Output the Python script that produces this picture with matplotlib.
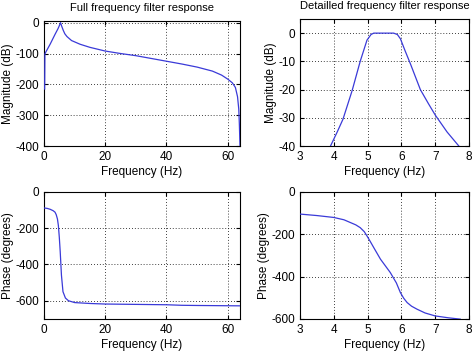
import matplotlib
matplotlib.use("Agg")
import matplotlib.pyplot as plt

plt.rcParams['font.family'] = ['Liberation Sans', 'DejaVu Sans']
plt.rcParams['axes.unicode_minus'] = False

# Full magnitude response
full_f = [0.22, 0.3, 0.6, 1.0, 2.0, 3.0, 3.6, 4.6, 5.0, 5.4, 5.8, 6.3, 6.8, 7.5, 9.0, 11.8, 15, 20, 25, 30, 35, 40, 45, 50, 55, 58, 60, 61.5, 62.5, 63.2, 63.6, 63.8, 64.0]
full_mag = [-215, -102, -95, -88, -70, -50, -38, -19, -10, 0, -12, -25, -36, -45, -58, -70, -80, -92, -100, -107, -116, -125, -134, -144, -157, -170, -183, -195, -210, -240, -280, -330, -400]

# Detailed magnitude response
det_f = [3.9, 4.1, 4.27, 4.54, 4.78, 4.98, 5.1, 5.18, 5.77, 5.88, 5.97, 6.1, 6.27, 6.56, 6.8, 7.0, 7.35, 7.7]
det_mag = [-40, -35, -30.5, -20.4, -10, -2.5, -0.5, 0, 0, -0.5, -2, -6, -11, -20, -25, -29, -35, -40]

# Full phase response
ph_f = [0.0, 1.0, 2.0, 3.0, 3.6, 4.0, 4.4, 4.7, 5.0, 5.3, 5.7, 6.2, 7.0, 8.0, 10.0, 15, 20, 30, 40, 45, 50, 64]
ph_deg = [-89, -91, -96, -104, -112, -126, -150, -186, -250, -330, -459, -550, -585, -600, -610, -615, -618, -620, -622, -625, -626, -628]

# Detailed phase response
dph_f = [3.0, 3.5, 4.0, 4.3, 4.49, 4.65, 4.78, 4.9, 4.98, 5.08, 5.18, 5.38, 5.67, 5.85, 5.97, 6.07, 6.17, 6.3, 6.46, 6.7, 7.0, 7.4, 7.74]
dph_deg = [-105, -112, -121, -132, -145, -156, -169, -188, -208, -235, -263, -318, -381, -430, -476, -503, -523, -540, -554, -572, -586, -595, -601]

line_color = '#3a3ad8'
fs = 8.5

fig = plt.figure(figsize=(4.74, 3.52), dpi=100)

ax1 = fig.add_axes([0.0928, 0.585, 0.4135, 0.355])
ax2 = fig.add_axes([0.633, 0.585, 0.3565, 0.361])
ax3 = fig.add_axes([0.0928, 0.094, 0.4135, 0.361])
ax4 = fig.add_axes([0.633, 0.094, 0.3565, 0.361])

ax1.plot(full_f, full_mag, color=line_color, lw=0.9, zorder=3)
ax1.set_xlim(0, 64)
ax1.set_ylim(-400, 5)
ax1.set_xticks([0, 20, 40, 60])
ax1.set_yticks([0, -100, -200, -300, -400])
ax1.set_title('Full frequency filter response', fontsize=8, pad=7)
ax1.set_ylabel('Magnitude (dB)', fontsize=fs, labelpad=1)

ax2.plot(det_f, det_mag, color=line_color, lw=0.9, zorder=3)
ax2.set_xlim(3, 8)
ax2.set_ylim(-40, 5)
ax2.set_xticks([3, 4, 5, 6, 7, 8])
ax2.set_yticks([0, -10, -20, -30, -40])
ax2.set_title('Detailled frequency filter response', fontsize=8, pad=7)
ax2.set_ylabel('Magnitude (dB)', fontsize=fs, labelpad=1)

ax3.plot(ph_f, ph_deg, color=line_color, lw=0.9, zorder=3)
ax3.set_xlim(0, 64)
ax3.set_ylim(-700, 0)
ax3.set_xticks([0, 20, 40, 60])
ax3.set_yticks([0, -200, -400, -600])
ax3.set_ylabel('Phase (degrees)', fontsize=fs, labelpad=1)

ax4.plot(dph_f, dph_deg, color=line_color, lw=0.9, zorder=3)
ax4.set_xlim(3, 8)
ax4.set_ylim(-600, 0)
ax4.set_xticks([3, 4, 5, 6, 7, 8])
ax4.set_yticks([0, -200, -400, -600])
ax4.set_ylabel('Phase (degrees)', fontsize=fs, labelpad=1)

for ax in (ax1, ax2, ax3, ax4):
    ax.set_xlabel('Frequency (Hz)', fontsize=fs, labelpad=2.5)
    ax.grid(True, color='black', linestyle=(0, (1, 2.5)), linewidth=0.6)
    ax.tick_params(direction='in', labelsize=fs, length=3, pad=3.5, top=True, right=True)
    for s in ax.spines.values():
        s.set_linewidth(0.8)

fig.savefig('out.png', dpi=100)
